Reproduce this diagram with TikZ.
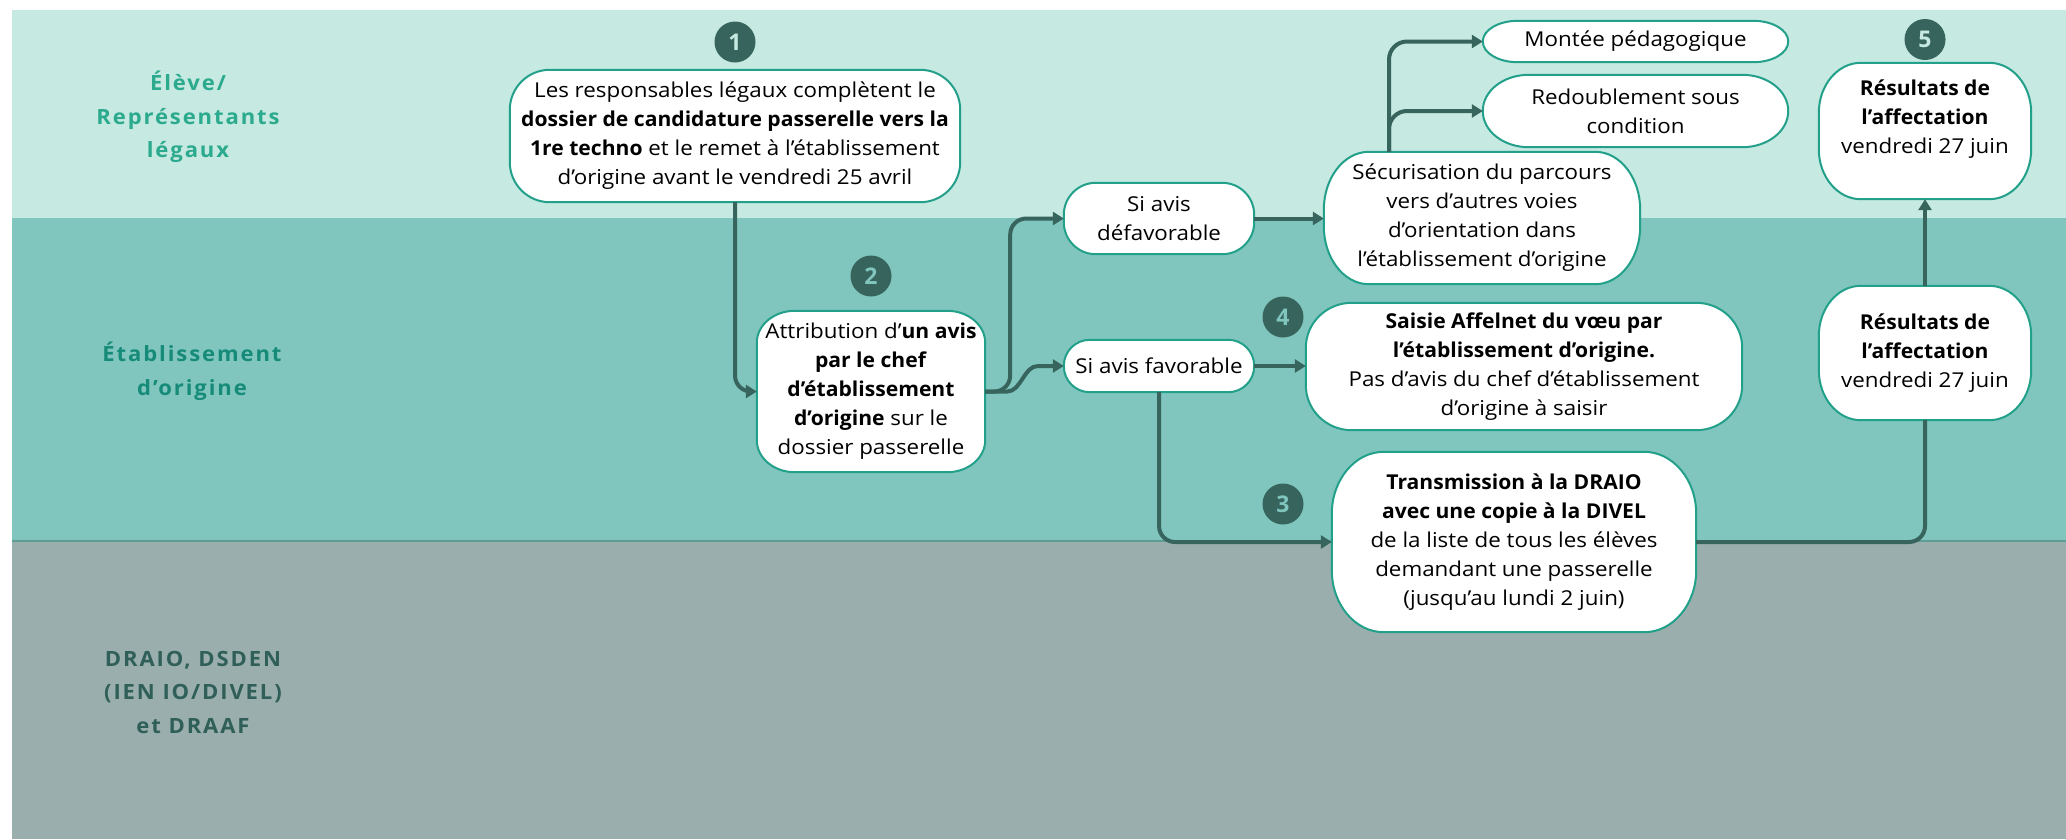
\documentclass[tikz,border=0pt]{standalone}
\usepackage{fontspec}
\setmainfont{Open Sans}
\usetikzlibrary{arrows.meta,calc}
\pgfdeclarelayer{bg}
\pgfdeclarelayer{frames}
\pgfsetlayers{bg,frames,main}
\definecolor{bandA}{HTML}{C6E9E1}
\definecolor{bandB}{HTML}{80C6BE}
\definecolor{bandC}{HTML}{9AAFAD}
\definecolor{sepline}{HTML}{5E9C94}
\definecolor{dark}{HTML}{37645D}
\definecolor{framecol}{HTML}{22A08A}
\definecolor{labA}{HTML}{2BAA8E}
\definecolor{labB}{HTML}{178B79}
\definecolor{labC}{HTML}{2F5F58}
\newfontfamily\bodyfont[FakeStretch=1.09, BoldFeatures={FakeStretch=1.03}]{Open Sans}
\newfontfamily\lanefont[FakeStretch=1.05, LetterSpace=9]{Open Sans}
\tikzset{
  txt/.style={align=center, inner sep=0pt, text=black, font=\bodyfont\fontsize{20.5}{29}\selectfont},
  lane/.style={align=center, inner sep=0pt, font=\lanefont\fontsize{21}{33.5}\selectfont\bfseries},
  num/.style={circle, fill=dark, minimum size=41pt, inner sep=0pt, font=\fontsize{23}{23}\selectfont\bfseries},
  conn/.style={draw=dark, line width=4pt, rounded corners=16pt, -{Triangle[length=11pt,width=13pt]}},
  frameline/.style={draw=framecol, line width=2pt, fill=white},
}
\newcommand\softframe[3]{%
  \begin{pgfonlayer}{frames}
  \path[frameline] let \p1=(#1.south west), \p2=(#1.north east) in
    (\x1+#2pt,\y1) -- (\x2-#2pt,\y1)
    arc[start angle=-90, end angle=0, x radius=#2pt, y radius=#3pt]
    -- (\x2,\y2-#3pt)
    arc[start angle=0, end angle=90, x radius=#2pt, y radius=#3pt]
    -- (\x1+#2pt,\y2)
    arc[start angle=90, end angle=180, x radius=#2pt, y radius=#3pt]
    -- (\x1,\y1+#3pt)
    arc[start angle=180, end angle=270, x radius=#2pt, y radius=#3pt]
    -- cycle;
  \end{pgfonlayer}}
\begin{document}
\begin{tikzpicture}[x=1pt, y=-1pt]
\useasboundingbox (0,0) rectangle (2066,839);
\begin{pgfonlayer}{bg}
  \fill[bandA] (12,10) rectangle (2066,218);
  \fill[bandB] (12,218) rectangle (2066,541);
  \fill[bandC] (12,541) rectangle (2066,839);
  \draw[sepline, line width=2pt] (12,541) -- (2066,541);
\end{pgfonlayer}

% lane labels
\node[lane, text=labA] (l1) at (188,117) {Élève/\\Représentants\\légaux};
\node[lane, text=labB] (l2) at (192,371) {Établissement\\d’origine};
\node[lane, text=labC] (l3) at (193,692) {DRAIO, DSDEN\\(IEN IO/DIVEL)\\et DRAAF};

% boxes
\node[txt, minimum width=450pt, minimum height=132pt] (b1) at (735,136)
  {Les responsables légaux complètent le\\\textbf{dossier de candidature passerelle vers la}\\\textbf{1re techno} et le remet à l’établissement\\d’origine avant le vendredi 25 avril};
\node[txt, minimum width=228pt, minimum height=161pt] (b2) at (871,391.5)
  {Attribution d’\textbf{un avis}\\\textbf{par le chef}\\\textbf{d’établissement}\\\textbf{d’origine} sur le\\dossier passerelle};
\node[txt, minimum width=190pt, minimum height=71pt] (df) at (1159,218.5) {Si avis\\défavorable};
\node[txt, minimum width=190pt, minimum height=52pt] (fv) at (1159,366) {Si avis favorable};
\node[txt, minimum width=316pt, minimum height=132pt] (sec) at (1482,218)
  {Sécurisation du parcours\\vers d’autres voies\\d’orientation dans\\l’établissement d’origine};
\node[txt, minimum width=305pt, minimum height=41pt] (mt) at (1635.5,41.5) {Montée pédagogique};
\node[txt, minimum width=305pt, minimum height=72pt] (rd) at (1635.5,111) {Redoublement sous\\condition};
\node[txt, minimum width=212pt, minimum height=136pt] (r1) at (1925,131)
  {\textbf{Résultats de}\\\textbf{l’affectation}\\vendredi 27 juin\\\mbox{}};
\node[txt, minimum width=212pt, minimum height=134pt] (r2) at (1925,353)
  {\textbf{Résultats de}\\\textbf{l’affectation}\\vendredi 27 juin};
\node[txt, minimum width=436pt, minimum height=127pt] (sa) at (1524,366.5)
  {\textbf{Saisie Affelnet du vœu par}\\\textbf{l’établissement d’origine.}\\Pas d’avis du chef d’établissement\\d’origine à saisir};
\node[txt, minimum width=364pt, minimum height=180pt] (tr) at (1514,542)
  {\textbf{Transmission à la DRAIO}\\\textbf{avec une copie à la DIVEL}\\de la liste de tous les élèves\\demandant une passerelle\\(jusqu’au lundi 2 juin)};

\softframe{b1}{40}{40}
\softframe{b2}{38}{32}
\softframe{df}{32}{32}
\softframe{fv}{26}{26}
\softframe{sec}{45}{58}
\softframe{mt}{35}{20.5}
\softframe{rd}{46}{36}
\softframe{r1}{42}{50}
\softframe{r2}{42}{50}
\softframe{sa}{46}{45}
\softframe{tr}{52}{62}

% step numbers
\node[num, text=bandA] (n1) at (735,42) {1};
\node[num, text=bandB] (n2) at (871,276) {2};
\node[num, text=bandB] (n3) at (1283,504) {3};
\node[num, text=bandB] (n4) at (1283,317) {4};
\node[num, text=bandA] (n5) at (1925,39.5) {5};

% connectors
\draw[conn] (b1.south) |- (b2.west);
\draw[conn] (b2.east) -- ++(25,0) |- (df.west);
\draw[conn, sharp corners] (b2.east) -- ++(22,0) .. controls +(14,0) and +(-14,0) .. ($(fv.west)+(-26,0)$) -- (fv.west);
\draw[conn] (df.east) -- (df.east -| sec.west);
\draw[conn] (fv.east) -- (fv.east -| sa.west);
\coordinate (secTop) at ([xshift=-93pt]sec.north);
\draw[conn, rounded corners=18pt] (secTop) |- (rd.west);
\draw[conn, rounded corners=18pt] (secTop) |- (mt.west);
\draw[conn] (fv.south) |- (tr.west);
\draw[conn, -] (tr.east) -| (r2.south);
\draw[conn] (r2.north) -- (r1.south);
\end{tikzpicture}
\end{document}
